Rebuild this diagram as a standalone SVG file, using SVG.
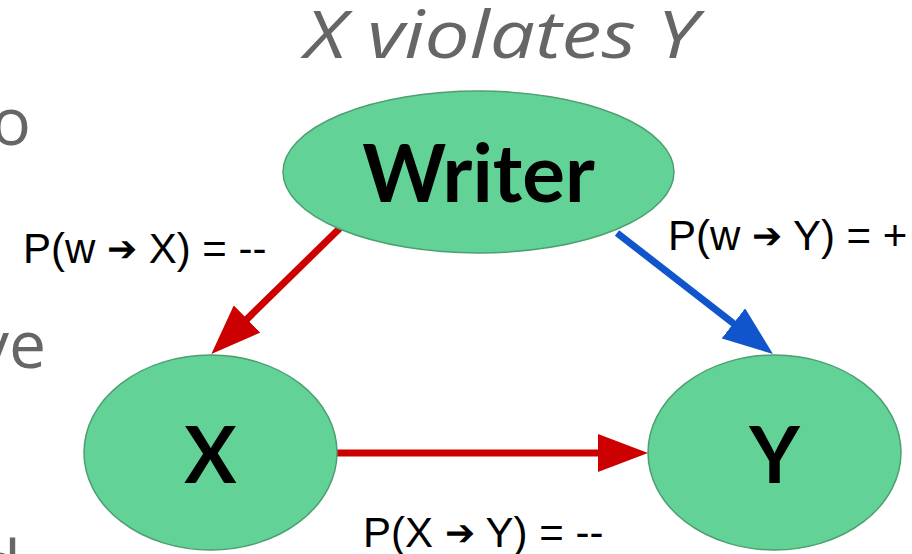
<svg xmlns="http://www.w3.org/2000/svg" width="912" height="554" viewBox="0 0 912 554">
  <style>
    .node { fill: #63d297; stroke: #4c9f70; stroke-width: 1.5; }
    .name { font-family: Lato, "Liberation Sans", sans-serif; font-weight: 700; fill: #000; text-anchor: middle; }
    .side { font-family: "Open Sans", Lato, sans-serif; font-weight: 400; fill: #666; font-size: 66px; }
    .prob { font-family: "Liberation Sans", Arial, sans-serif; font-size: 42px; fill: #000; }
    .arr { font-size: 36px; }
    .edge { fill: none; stroke-width: 7; }
    .red { stroke: #cc0000; }
    .blue { stroke: #1155cc; }
  </style>
  <defs>
    <marker id="headRed" markerUnits="userSpaceOnUse" viewBox="0 0 50 38" markerWidth="50" markerHeight="38" refX="5" refY="19" orient="auto">
      <path d="M0,0 L50,19 L0,38 Z" fill="#cc0000"/>
    </marker>
    <marker id="headBlue" markerUnits="userSpaceOnUse" viewBox="0 0 50 38" markerWidth="50" markerHeight="38" refX="5" refY="19" orient="auto">
      <path d="M0,0 L50,19 L0,38 Z" fill="#1155cc"/>
    </marker>
  </defs>

  <rect width="912" height="554" fill="#fff"/>

  <!-- slide text running off the left edge -->
  <g id="side-text">
    <text class="side" x="31" y="145" text-anchor="end">o</text>
    <text class="side" x="46" y="368" text-anchor="end">ve</text>
    <text class="side" x="21" y="588" text-anchor="end">d</text>
  </g>

  <!-- title -->
  <text id="title" x="501" y="58" text-anchor="middle" font-family="'Open Sans', Lato, sans-serif" font-style="italic" font-weight="400" font-size="66" fill="#666" textLength="393" lengthAdjust="spacingAndGlyphs">X violates Y</text>

  <!-- connectors -->
  <g id="connectors">
    <path class="edge red" d="M340,228 L243.5,322.5" marker-end="url(#headRed)"/>
    <path class="edge blue" d="M617,233 L737.4,326.4" marker-end="url(#headBlue)"/>
    <path class="edge red" d="M337,453 L603,453" marker-end="url(#headRed)"/>
    <text class="prob" x="23" y="263">P(w <tspan class="arr" dy="-2">➔</tspan><tspan dy="2"> X) = --</tspan></text>
    <text class="prob" x="668" y="250">P(w <tspan class="arr" dy="-2">➔</tspan><tspan dy="2"> Y) = +</tspan></text>
    <text class="prob" x="363" y="547">P(X <tspan class="arr" dy="-2">➔</tspan><tspan dy="2"> Y) = --</tspan></text>
  </g>

  <!-- nodes -->
  <g id="writer">
    <ellipse class="node" cx="478.5" cy="172" rx="195.5" ry="81"/>
    <text class="name" x="478.5" y="202" font-size="80">Writer</text>
  </g>
  <g id="x">
    <ellipse class="node" cx="210.5" cy="452.5" rx="126.5" ry="97.5"/>
    <text class="name" x="210.5" y="483" font-size="78">X</text>
  </g>
  <g id="y">
    <ellipse class="node" cx="774.5" cy="452.5" rx="126.5" ry="97.5"/>
    <text class="name" x="774.5" y="483" font-size="78">Y</text>
  </g>
</svg>
